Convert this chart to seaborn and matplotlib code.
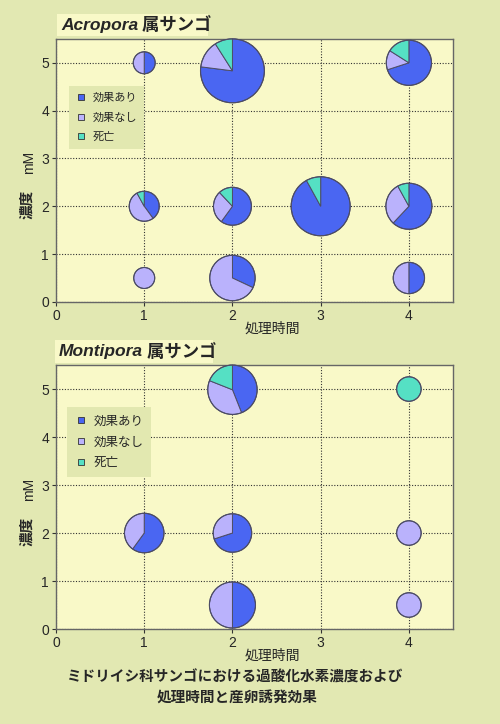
import numpy as np
import pandas as pd
import matplotlib
matplotlib.use('Agg')
import matplotlib.pyplot as plt
import matplotlib.transforms as mtransforms
from matplotlib.patches import Wedge, Rectangle
from matplotlib.lines import Line2D
import seaborn as sns

# Acropora (time, concentration, bubble size, % effect / no effect / dead)
acro_time = [1, 2, 4, 1, 2, 3, 4, 1, 2, 4]
acro_conc = [5, 5, 5, 2, 2, 2, 2, 0.5, 0.5, 0.5]
acro_size = [1.2, 10.2, 5.1, 2.25, 3.6, 8.7, 5.3, 1.1, 5.15, 2.45]
acro_effect = [50, 77, 70, 40, 60, 92, 62, 0, 32, 50]
acro_none = [50, 14, 14, 52, 28, 0, 30, 100, 68, 50]
acro_dead = [0, 9, 16, 8, 12, 8, 8, 0, 0, 0]

# Montipora
monti_time = [2, 4, 1, 2, 4, 2, 4]
monti_conc = [5, 5, 2, 2, 2, 0.5, 0.5]
monti_size = [6.1, 1.5, 3.9, 3.7, 1.5, 5.3, 1.5]
monti_effect = [44, 0, 60, 70, 0, 50, 0]
monti_none = [37, 0, 40, 30, 100, 50, 100]
monti_dead = [19, 100, 0, 0, 0, 0, 0]

labels = ['効果あり', '効果なし', '死亡']
colors = ['#4a66f2', '#bab2fc', '#55e0c4']
xticks = [0, 1, 2, 3, 4]
yticks = [0, 1, 2, 3, 4, 5]

BG = '#e2e8b2'
PLOT_BG = '#f9f9c8'
EDGE = '#4c4c66'
K = 10  # px radius per sqrt(size)

sns.set_style('white', {'axes.facecolor': PLOT_BG, 'figure.facecolor': BG})
plt.rcParams['font.family'] = ['Liberation Sans', 'Noto Sans CJK JP']

fig = plt.figure(figsize=(5, 7.24), dpi=100)
fig.patch.set_facecolor(BG)


def draw_panel(ax, time, conc, size, eff, none, dead, genus, box, leg_anchor,
               leg_size, leg_space):
    ax.set_xlim(0, 4.5)
    ax.set_ylim(0, 5.5)
    ax.set_xticks(xticks)
    ax.set_yticks(yticks)
    ax.grid(True, color='#333333', linestyle=(0, (1, 1.5)), lw=0.8)
    ax.set_axisbelow(True)
    for s in ax.spines.values():
        s.set_color('#666666')
        s.set_linewidth(1.0)
    ax.tick_params(length=3, width=0.8, color='#333333', labelsize=10, pad=2,
                   bottom=True, left=True)

    ppy = ax.transData.transform((0, 1))[1] - ax.transData.transform((0, 0))[1]
    df = pd.DataFrame({'time': time, 'conc': conc, 'size': size,
                       'eff': eff, 'none': none, 'dead': dead})
    df['r'] = K * np.sqrt(df['size'])
    # keep bubble inside the plot top, as the original chart does
    df['yd'] = np.minimum(df['conc'], 5.5 - df['r'] / ppy)

    for _, row in df.iterrows():
        trans = fig.dpi_scale_trans + mtransforms.ScaledTranslation(
            row['time'], row['yd'], ax.transData)
        start = 90.0
        for frac, col in zip([row['eff'], row['none'], row['dead']], colors):
            if frac <= 0:
                continue
            end = start - 360 * frac / 100
            ax.add_patch(Wedge((0, 0), row['r'] / 100, end, start, transform=trans,
                               facecolor=col, edgecolor=EDGE, lw=0.7, zorder=3,
                               clip_on=False))
            start = end

    vmax = df['size'].max()
    sns.scatterplot(data=df, x='time', y='yd', size='size',
                    sizes=(0, (2 * 0.72 * K) ** 2 * vmax), size_norm=(0, vmax),
                    color='none', edgecolor=EDGE, linewidth=0.8, legend=False,
                    ax=ax, zorder=4, clip_on=False)
    ax.set_xlim(0, 4.5)
    ax.set_ylim(0, 5.5)
    ax.set_xlabel('')
    ax.set_ylabel('')

    ax.text(0.544, -0.075, '処理時間', transform=ax.transAxes, ha='center', va='top',
            fontsize=10, family=['Noto Sans CJK JP'])
    ax.text(-0.068, 0.53, 'mM', transform=ax.transAxes, rotation=90, ha='center',
            va='center', fontsize=10)
    ax.text(-0.075, 0.37, '濃度', transform=ax.transAxes, rotation=90, ha='center',
            va='center', fontsize=10.5, fontweight='bold', family=['Noto Sans CJK JP'])

    handles = [Line2D([0], [0], marker='s', lw=0, markersize=5, markerfacecolor=c,
                      markeredgecolor='#333333', markeredgewidth=0.6) for c in colors]
    leg = ax.legend(handles, labels, loc='upper left', bbox_to_anchor=leg_anchor,
                    facecolor='#e2e8b0', edgecolor='none', framealpha=1, fancybox=False,
                    handletextpad=0.5, labelspacing=leg_space, borderpad=0.6,
                    borderaxespad=0, handlelength=1.0,
                    prop={'family': ['Noto Sans CJK JP'], 'size': leg_size})
    leg.set_zorder(5)

    fig.add_artist(Rectangle((box[0], box[1]), box[2], box[3], transform=fig.transFigure,
                             facecolor=PLOT_BG, edgecolor='none', zorder=-1))
    t1 = fig.text(box[0] + 0.008, box[1] + box[3] / 2, genus, fontsize=12.5,
                  fontstyle='italic', fontweight='bold', ha='left', va='center',
                  family=['Liberation Sans'])
    ax.annotate(' 属サンゴ', xy=(1, 0.5), xycoords=t1, ha='left', va='center',
                fontsize=12.5, fontweight='bold', family=['Noto Sans CJK JP'],
                annotation_clip=False)


ax1 = fig.add_axes([0.112, 0.583, 0.794, 0.3633])
draw_panel(ax1, acro_time, acro_conc, acro_size, acro_effect, acro_none, acro_dead,
           'Acropora', (0.114, 0.950, 0.302, 0.0304), (0.033, 0.82), 8, 0.85)

ax2 = fig.add_axes([0.112, 0.1312, 0.794, 0.3646])
draw_panel(ax2, monti_time, monti_conc, monti_size, monti_effect, monti_none, monti_dead,
           'Montipora', (0.110, 0.4986, 0.316, 0.0318), (0.028, 0.84), 9, 0.62)

fig.text(0.47, 0.066, 'ミドリイシ科サンゴにおける過酸化水素濃度および', ha='center',
         va='center', fontsize=10.5, fontweight='bold', family=['Noto Sans CJK JP'])
fig.text(0.474, 0.037, '処理時間と産卵誘発効果', ha='center', va='center',
         fontsize=10.5, fontweight='bold', family=['Noto Sans CJK JP'])

fig.savefig('out.png', dpi=100, facecolor=BG)
